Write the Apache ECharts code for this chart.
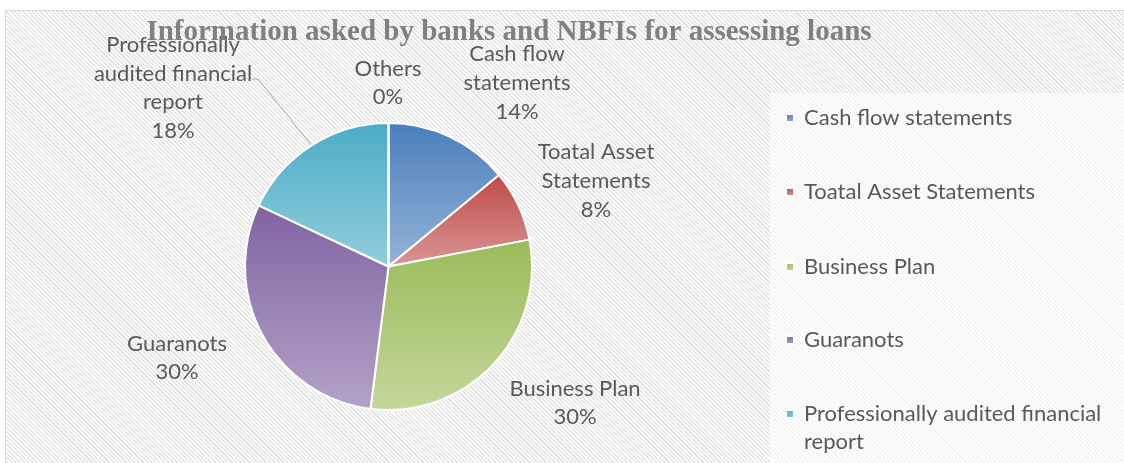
<!DOCTYPE html>
<html>
<head>
<meta charset="utf-8">
<script src="https://cdn.jsdelivr.net/npm/echarts@6/dist/echarts.min.js"></script>
<style>
  html, body { margin: 0; padding: 0; background: #fff; width: 1124px; height: 463px; overflow: hidden; }
  #frame {
    position: absolute; left: 5px; top: 10px; right: -2px; bottom: -2px;
    border: 1px solid #d9d9d9;
    background: repeating-linear-gradient(45deg, #ffffff 0, #ffffff 1.5px, #e4e4e4 1.5px, #e4e4e4 3px);
  }
  #chart { position: absolute; left: 0; top: 0; width: 1124px; height: 463px; }
</style>
</head>
<body>
<div id="frame"></div>
<div id="chart"></div>
<script>
// Shares of information requested by lenders (percent)
const categories = [
  'Cash flow statements',
  'Toatal Asset Statements',
  'Business Plan',
  'Guaranots',
  'Professionally audited financial report',
  'Others'
];
const shares = [14, 8, 30, 30, 18, 0];
const sliceLabels = [
  'Cash flow\nstatements',
  'Toatal Asset\nStatements',
  'Business Plan',
  'Guaranots',
  'Professionally\naudited financial\nreport',
  'Others'
];
const legendNames = categories.slice(0, 5);

// Vertical gradient per slice: [top colour, bottom colour]
const sliceColors = [
  ['#4a7ebb', '#95b3d7'],
  ['#be4b48', '#da9694'],
  ['#9bbb59', '#c4d79b'],
  ['#8064a2', '#b3a2c7'],
  ['#4bacc6', '#93cddd'],
  ['#a5a5a5', '#d0d0d0']
];

// Where each data label sits (text block centre), and the leader elbow
const labelSpots = [
  [517, 83], [596, 181], [575, 403], [177, 358], [173, 88], [388, 83]
];
const leaderElbow = [[258, 79], [252, 79]];
// Vertical centre of each legend entry's marker
const legendRows = [118, 192, 267, 340, 414];

const chart = echarts.init(document.getElementById('chart'), null, { renderer: 'canvas' });

const data = categories.map((name, i) => ({
  name: name,
  value: shares[i],
  itemStyle: {
    color: new echarts.graphic.LinearGradient(0, 0, 0, 1, [
      { offset: 0, color: sliceColors[i][0] },
      { offset: 1, color: sliceColors[i][1] }
    ])
  },
  labelLine: { show: i === 4 }
}));

const LINE = 28;
const legends = legendNames.map((name, i) => {
  const wrapped = i === 4;
  return {
    orient: 'vertical',
    left: 785,
    top: legendRows[i] - (wrapped ? LINE * 1.5 : LINE / 2),
    padding: 0,
    itemWidth: 8,
    itemHeight: 8,
    icon: 'rect',
    data: [name],
    // a blank leading line keeps the marker level with the first printed line of a wrapped entry
    formatter: wrapped ? (n => '\n' + n) : '{name}',
    textStyle: {
      fontFamily: 'Lato, sans-serif',
      fontSize: 22,
      lineHeight: LINE,
      color: '#595959',
      width: 310,
      overflow: 'break',
      padding: [0, 0, 0, 5]
    }
  };
});

const option = {
  backgroundColor: 'transparent',
  animation: false,
  graphic: [{
    // lighter panel behind the legend
    type: 'rect',
    z: 0,
    silent: true,
    shape: { x: 770, y: 93, width: 360, height: 380 },
    style: { fill: 'rgba(255,255,255,0.6)' }
  }],
  title: {
    text: 'Information asked by banks and NBFIs for assessing loans',
    left: 509,
    textAlign: 'center',
    top: 18,
    padding: 0,
    textStyle: {
      fontFamily: '"Liberation Serif", serif',
      fontWeight: 'bold',
      fontSize: 29,
      color: '#808080'
    }
  },
  legend: legends,
  series: [{
    type: 'pie',
    center: [388.5, 266.5],
    radius: 143.5,
    startAngle: 90,
    clockwise: true,
    avoidLabelOverlap: false,
    data: data,
    itemStyle: { borderColor: '#ffffff', borderWidth: 2 },
    label: {
      show: true,
      position: 'outside',
      formatter: p => sliceLabels[p.dataIndex] + '\n' + p.percent + '%',
      fontFamily: 'Lato, sans-serif',
      fontSize: 22,
      lineHeight: 28.7,
      color: '#595959',
      align: 'center'
    },
    labelLine: {
      show: false,
      length: 20,
      length2: 10,
      lineStyle: { color: '#a6a6a6', width: 1 }
    },
    labelLayout: function (p) {
      const spot = labelSpots[p.dataIndex];
      const res = { x: spot[0], y: spot[1], align: 'center', verticalAlign: 'middle' };
      if (p.dataIndex === 4 && p.labelLinePoints) {
        res.labelLinePoints = [p.labelLinePoints[0], leaderElbow[0], leaderElbow[1]];
      }
      return res;
    },
    emphasis: { disabled: true }
  }]
};

chart.setOption(option);
</script>
</body>
</html>
